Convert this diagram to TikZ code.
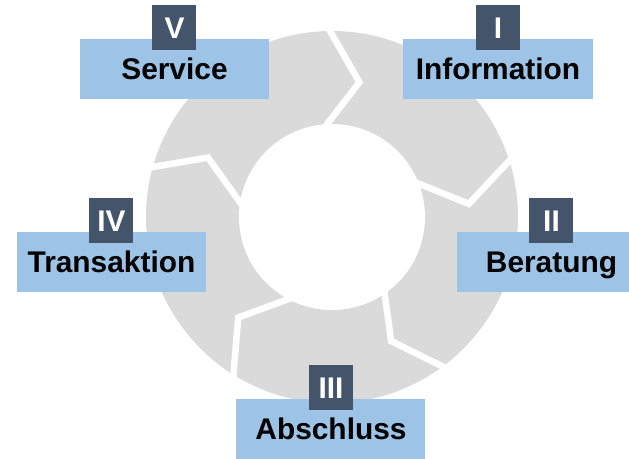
\documentclass[tikz,border=0pt]{standalone}
\usepackage{fontspec}
\setmainfont{Liberation Sans}
\usetikzlibrary{calc,positioning}
\definecolor{ringgray}{HTML}{DADADA}
\definecolor{phaseblue}{HTML}{9DC3E6}
\definecolor{badgeslate}{HTML}{44546A}
\tikzset{
	phase/.style={
			fill=phaseblue, minimum width=3.78cm, minimum height=1.2cm, inner sep=0pt,
			font=\fontsize{17}{20}\selectfont\bfseries, text height=0.43cm, text depth=0pt
		},
	badge/.style={
			fill=badgeslate, text=white, minimum width=0.88cm, minimum height=0.9cm, inner sep=0pt,
			font=\fontsize{17}{20}\selectfont\bfseries, text height=0.43cm, text depth=0pt
		},
	gap/.style={draw=white, line width=0.13cm}
}

\begin{document}
\begin{tikzpicture}

			\useasboundingbox (-6.64,-4.84) rectangle (5.94,4.34);
			\clip (-6.64,-4.84) rectangle (5.94,4.34);

			% Ring
			\fill[ringgray] (0,0) circle (3.72);

			% Chevron cuts between the phases
			\foreach \a/\k/\o in {93/78.5/90.6, 21/5.5/17.6, -55.5/-64.5/-53.5, -118/-133/-122, 171/154.4/164.4} {
					\coordinate (k) at (\k:2.75);
					\draw[gap] ($(k)!1.15!(\a:1.86)$) -- (k) -- ($(k)!1.1!(\o:3.72)$);
				}
			\fill[white] (0,0) circle (1.86);

			% Phases
			\node[phase] (info) at (3.32,2.96) {Information};
			\node[badge, above=-0.24cm of info] (n1) {I};

			\node[phase] (ber) at (4.39,-0.9) {Beratung};
			\node[badge, above=-0.24cm of ber] (n2) {II};

			\node[phase] (absch) at (-0.02,-4.24) {Abschluss};
			\node[badge, above=-0.24cm of absch] (n3) {III};

			\node[phase] (trans) at (-4.41,-0.9) {Transaktion};
			\node[badge, above=-0.24cm of trans] (n4) {IV};

			\node[phase] (svc) at (-3.15,2.96) {Service};
			\node[badge, above=-0.24cm of svc] (n5) {V};

		\end{tikzpicture}
\end{document}
